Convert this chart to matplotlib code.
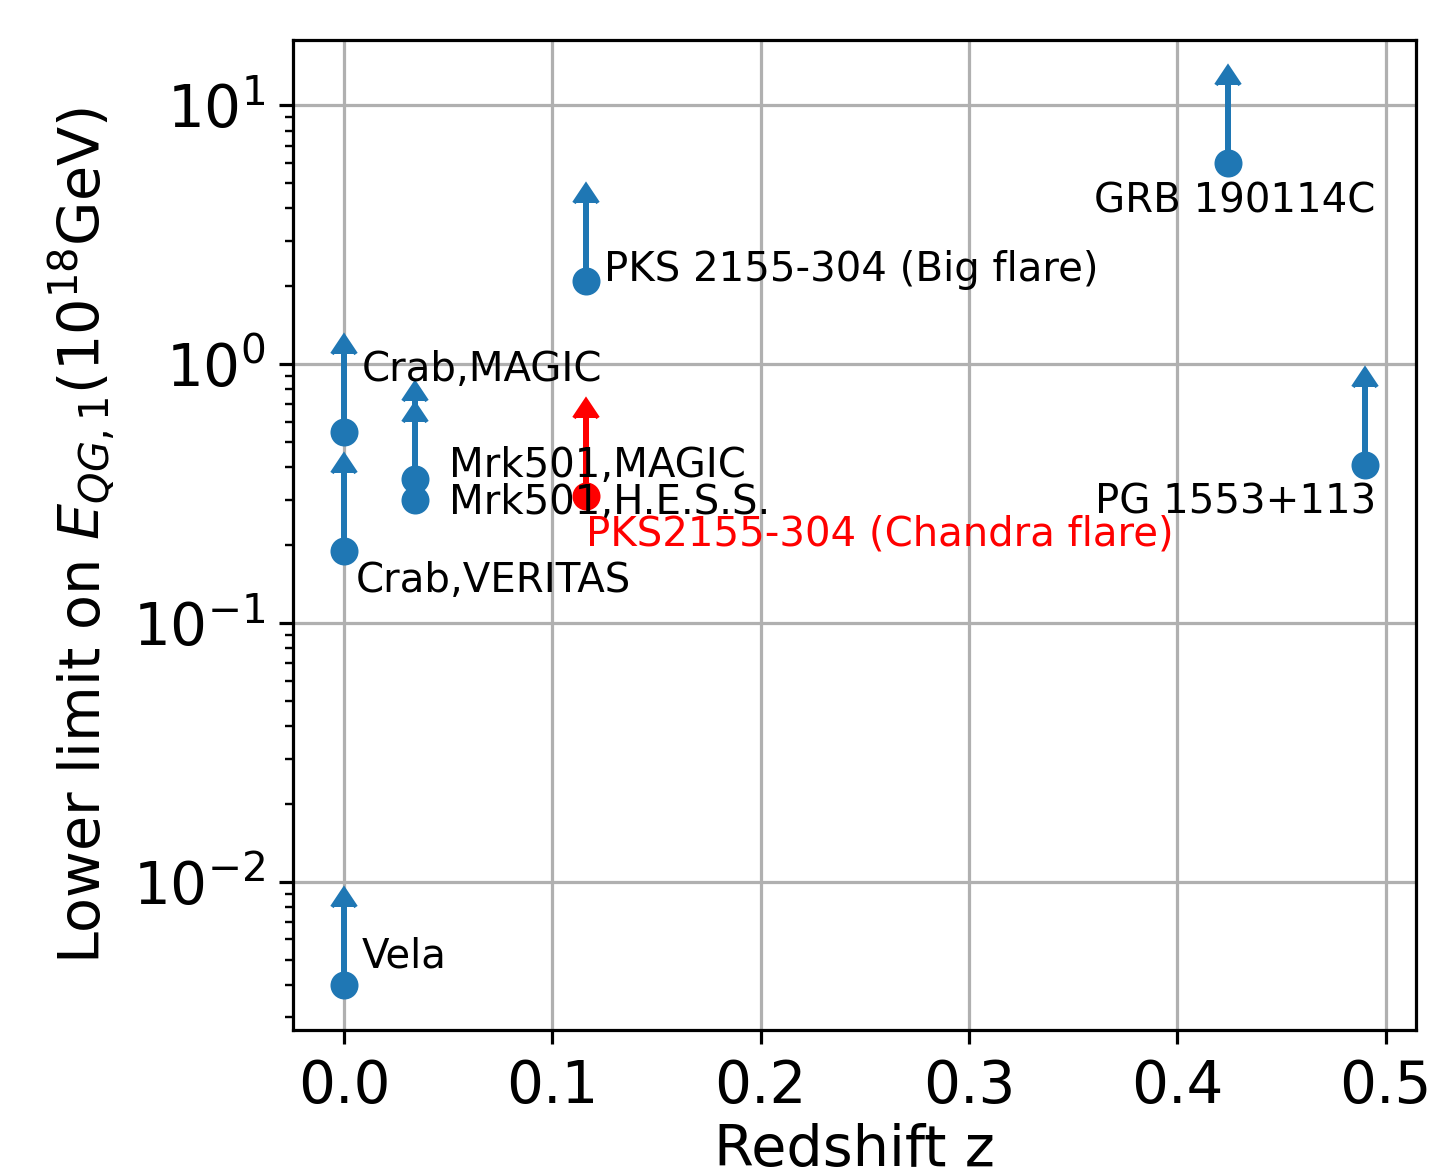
import matplotlib
matplotlib.use("Agg")
import matplotlib.pyplot as plt
import numpy as np

# ---- data ----
sources = ["Vela", "Crab,MAGIC", "Crab,VERITAS", "Mrk501,MAGIC", "Mrk501,H.E.S.S.",
           "PKS 2155-304 (Big flare)", "GRB 190114C", "PG 1553+113"]
redshift = [0.0, 0.0, 0.0, 0.034, 0.034, 0.116, 0.4245, 0.49]
eqg_limit = [0.0040, 0.55, 0.19, 0.36, 0.30, 2.1, 6.0, 0.41]

red_source = "PKS2155-304 (Chandra flare)"
red_redshift = [0.116]
red_limit = [0.31]

# ---- layout of labels (x, y, horizontal alignment) ----
label_pos = [
    (0.0086, 0.00467, "left"),
    (0.0086, 0.86, "left"),
    (0.0058, 0.1316, "left"),
    (0.0505, 0.368, "left"),
    (0.0505, 0.265, "left"),
    (0.125, 2.09, "left"),
    (0.4952, 3.85, "right"),
    (0.4952, 0.265, "right"),
]
red_label_pos = (0.116, 0.1995, "left")

fig = plt.figure(figsize=(1440 / 288, 1169 / 288), dpi=288)
ax = fig.add_axes([293 / 1440, 1 - 1030 / 1169, (1416 - 293) / 1440, (1030 - 40) / 1169])

ax.errorbar(redshift, eqg_limit, yerr=eqg_limit, lolims=True, fmt="o", color="C0")
ax.errorbar(red_redshift, red_limit, yerr=red_limit, lolims=True, fmt="o", color="red")
ax.set_yscale("log")

for name, (tx, ty, ha) in zip(sources, label_pos):
    ax.text(tx, ty, name, ha=ha, va="baseline", fontsize=10.05, color="black")
ax.text(red_label_pos[0], red_label_pos[1], red_source, ha=red_label_pos[2],
        va="baseline", fontsize=10.05, color="red")

ax.grid(True, which="major")
ax.tick_params(axis="both", which="major", labelsize=14.5)
ax.set_xlabel("Redshift z", fontsize=14.3, labelpad=2)
ax.set_ylabel(r"Lower limit on $E_{QG,1}(10^{18}$GeV)", fontsize=14.3)

fig.savefig("out.png", dpi=288)
